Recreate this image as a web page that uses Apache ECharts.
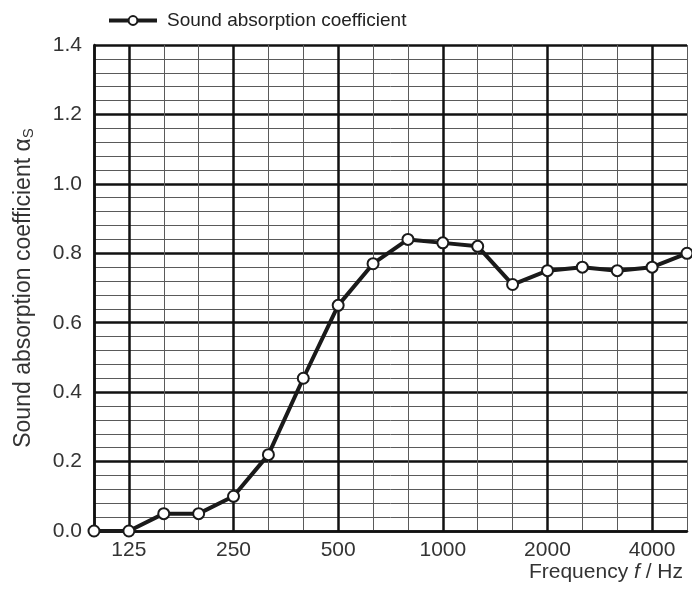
<!DOCTYPE html>
<html>
<head>
<meta charset="utf-8">
<script src="https://cdn.jsdelivr.net/npm/echarts@6/dist/echarts.min.js"></script>
<style>
html,body{margin:0;padding:0;background:#fff;}
#chart{width:692px;height:593px;}
</style>
</head>
<body>
<div id="chart"></div>
<script>
const frequencies = ['100','125','160','200','250','315','400','500','630','800','1000','1250','1600','2000','2500','3150','4000','5000'];
const absorption = [0.00,0.00,0.05,0.05,0.10,0.22,0.44,0.65,0.77,0.84,0.83,0.82,0.71,0.75,0.76,0.75,0.76,0.80];
const labeledFrequencies = ['125','250','500','1000','2000','4000'];
const majorLineFrequencies = ['100','125','250','500','1000','2000','4000'];
const seriesName = 'Sound absorption coefficient';

const chart = echarts.init(document.getElementById('chart'));
const font = 'Liberation Sans, Arial, sans-serif';
chart.setOption({
  backgroundColor: '#ffffff',
  animation: false,
  legend: {
    top: 6, left: 102,
    itemWidth: 48, itemHeight: 11,
    lineStyle: {width: 4, color: '#1a1a1a'},
    textStyle: {fontFamily: font, fontSize: 19, color: '#222', padding: [0, 0, 0, 5]},
    data: [seriesName]
  },
  grid: {left: 94, right: 5, top: 45, bottom: 62},
  xAxis: [
    {
      type: 'category', data: frequencies, boundaryGap: false,
      axisLine: {show: true, lineStyle: {color: '#111', width: 2.5}},
      axisTick: {show: false},
      axisLabel: {
        interval: (i, v) => labeledFrequencies.includes(v),
        fontFamily: font, fontSize: 21, color: '#333', margin: 9
      },
      splitLine: {show: true, interval: 0, lineStyle: {color: '#5a5a5a', width: 1}},
      name: '{t|Frequency }{i|f}{t| / Hz}',
      nameLocation: 'end', nameGap: 0,
      nameTextStyle: {
        align: 'right', verticalAlign: 'top', padding: [31, 4, 0, 0],
        rich: {
          t: {fontFamily: font, fontSize: 21, color: '#333'},
          i: {fontFamily: font, fontSize: 21, color: '#333', fontStyle: 'italic'}
        }
      }
    },
    {
      type: 'category', data: frequencies, boundaryGap: false, position: 'bottom',
      axisLine: {show: false}, axisTick: {show: false}, axisLabel: {show: false},
      splitLine: {show: true, interval: (i, v) => majorLineFrequencies.includes(v),
        lineStyle: {color: '#111', width: 2.5}}
    }
  ],
  yAxis: {
    type: 'value', min: 0, max: 1.4, interval: 0.2,
    axisLine: {show: true, lineStyle: {color: '#111', width: 2.5}},
    axisTick: {show: false},
    axisLabel: {formatter: v => v.toFixed(1), fontFamily: font, fontSize: 21, color: '#333', margin: 12},
    splitLine: {show: true, lineStyle: {color: '#111', width: 2.5}},
    minorTick: {show: false, splitNumber: 5},
    minorSplitLine: {show: true, lineStyle: {color: '#5a5a5a', width: 1}},
    name: '{t|Sound absorption coefficient α}{s|S}',
    nameLocation: 'middle', nameGap: 58, nameRotate: 90,
    nameTextStyle: {
      rich: {
        t: {fontFamily: font, fontSize: 23, color: '#333'},
        s: {fontFamily: font, fontSize: 15, color: '#333', padding: [10, 0, 0, 0]}
      }
    }
  },
  series: [{
    name: seriesName, type: 'line', data: absorption,
    symbol: 'circle', symbolSize: 11,
    lineStyle: {color: '#1a1a1a', width: 4},
    itemStyle: {color: '#ffffff', borderColor: '#1a1a1a', borderWidth: 2},
    z: 5
  }]
});
</script>
</body>
</html>
